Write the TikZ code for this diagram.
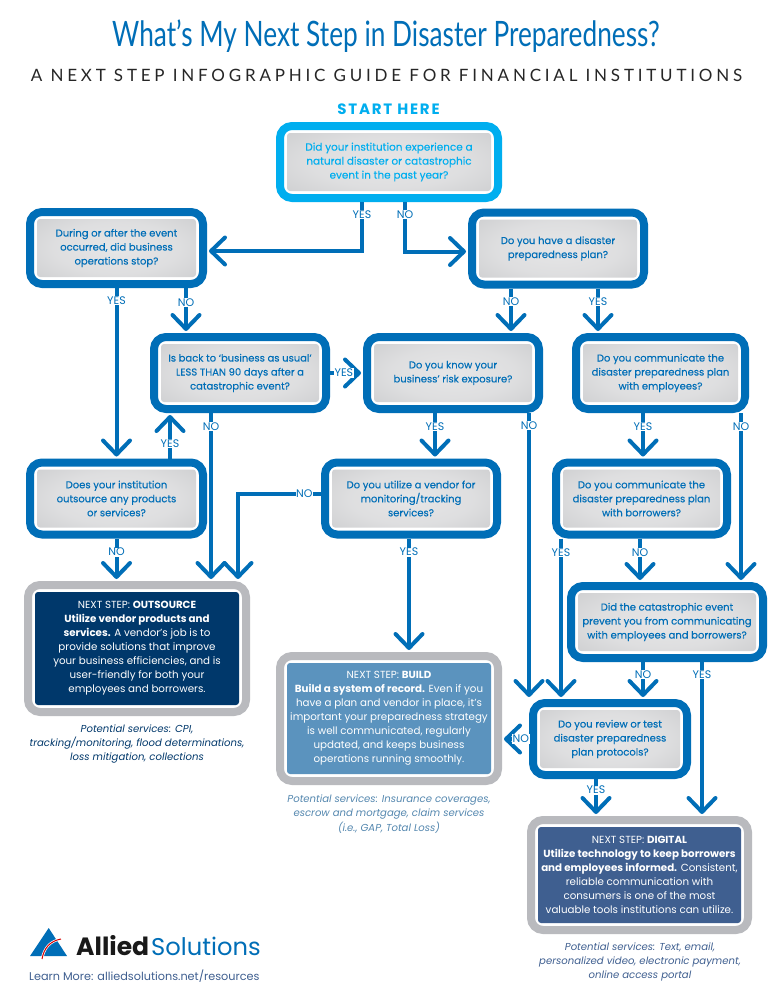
\documentclass[tikz,border=0pt]{standalone}
\usepackage{fontspec}
\usetikzlibrary{arrows.meta,calc}
\setmainfont{Poppins}
\newfontfamily\qfont[FakeBold=0.25]{Poppins}
\newfontfamily\titlefont[FakeStretch=0.75]{Lato}
\newfontfamily\subfont[LetterSpace=22.3]{Lato}
\definecolor{cblue}{HTML}{006EB7}
\definecolor{ccyan}{HTML}{00AEEF}
\definecolor{cnavy}{HTML}{00386B}
\definecolor{cbuild}{HTML}{5B93BE}
\definecolor{cdig}{HTML}{3F5F90}
\definecolor{cgrey}{HTML}{B9BABE}
\definecolor{cmid}{HTML}{E6E6E7}
\definecolor{cedge}{HTML}{C6C7C9}
\pgfdeclareradialshading{silver}{\pgfpoint{0bp}{0bp}}{color(0bp)=(cmid); color(18bp)=(cmid!75!cedge); color(40bp)=(cedge); color(100bp)=(cedge)}
\tikzset{
 anybox/.style={rounded corners=12pt,align=center,inner sep=0pt,outer sep=auto},
 qbox/.style 2 args={anybox,draw=cblue,fill=white,line width=8pt,minimum width=#1pt-8pt,minimum height=#2pt-8pt,
   text=cblue,font=\fontsize{10}{14}\qfont,execute at begin node={\rule{0pt}{12pt}},
   path picture={\shade[shading=silver,rounded corners=3pt]
     ([xshift=7pt,yshift=7pt]path picture bounding box.south west) rectangle
     ([xshift=-7pt,yshift=-7pt]path picture bounding box.north east);}},
 stepbox/.style n args={3}{anybox,draw=cgrey,fill=white,line width=8pt,minimum width=#1pt-8pt,minimum height=#2pt-8pt,
   text=white,font=\fontsize{10.3}{14}\selectfont,execute at begin node={\rule{0pt}{10pt}},
   path picture={\fill[#3,rounded corners=3pt]
     ([xshift=7pt,yshift=7pt]path picture bounding box.south west) rectangle
     ([xshift=-7pt,yshift=-7pt]path picture bounding box.north east);}},
 conn/.style={draw=cblue,line width=4pt,-{Straight Barb[length=14pt,width=27pt,round]},shorten >=2pt},
 lab/.style={fill=white,inner sep=0.6pt,text=cblue,font=\fontsize{11}{12}\selectfont},
 capt/.style={align=center,font=\fontsize{10.1}{14.2}\selectfont\itshape},
}
\begin{document}
\begin{tikzpicture}[x=1pt,y=-1pt]
\useasboundingbox (0,0) rectangle (777,1007);
\fill[white] (0,0) rectangle (777,1007);
\node[text=cblue,font=\fontsize{35}{40}\titlefont] (title) at (386,36) {What’s My Next Step in Disaster Preparedness?};
\node[text=black!85,font=\fontsize{17}{20}\subfont] (subtitle) at (386.5,75) {A NEXT STEP INFOGRAPHIC GUIDE FOR FINANCIAL INSTITUTIONS};
\node[text=ccyan,font=\fontsize{15}{16}\bfseries\addfontfeature{LetterSpace=12}] (starthere) at (388.5,109.5) {START HERE};

\node[qbox={226}{80},draw=ccyan,text=ccyan,font=\fontsize{10.45}{14}\qfont] (start) at (389,162) {Did your institution experience a\\natural disaster or catastrophic\\event in the past year?};
\node[qbox={181}{80}] (a) at (116.5,248) {During or after the event\\occurred, did business\\operations stop?};
\node[qbox={180}{80}] (b) at (558,248.5) {Do you have a disaster\\preparedness plan?};
\node[qbox={180}{80}] (c) at (240,373) {Is back to ‘business as usual’\\LESS THAN 90 days after a\\catastrophic event?};
\node[qbox={180}{80}] (d) at (453,373) {Do you know your\\business’ risk exposure?};
\node[qbox={177}{80}] (e) at (660.5,373) {Do you communicate the\\disaster preparedness plan\\with employees?};
\node[qbox={181}{80}] (f) at (116.5,498.5) {Does your institution\\outsource any products\\or services?};
\node[qbox={180}{80}] (g) at (411,498.5) {Do you utilize a vendor for\\monitoring/tracking\\services?};
\node[qbox={179}{80}] (h) at (641.5,498.5) {Do you communicate the\\disaster preparedness plan\\with borrowers?};
\node[qbox={200}{80}] (i) at (667,622) {Did the catastrophic event\\prevent you from communicating\\with employees and borrowers?};
\node[qbox={162}{80}] (j) at (610,739) {Do you review or test\\disaster preparedness\\plan protocols?};

\node[stepbox={226}{135}{cnavy}] (out) at (137,648.5) {NEXT STEP: \textbf{OUTSOURCE}\\\textbf{Utilize vendor products and}\\\textbf{services.} A vendor’s job is to\\provide solutions that improve\\your business efficiencies, and is\\user-friendly for both your\\employees and borrowers.};
\node[stepbox={226}{133}{cbuild}] (build) at (389,718.5) {NEXT STEP: \textbf{BUILD}\\\textbf{Build a system of record.} Even if you\\have a plan and vendor in place, it’s\\important your preparedness strategy\\is well communicated, regularly\\updated, and keeps business\\operations running smoothly.};
\node[stepbox={225}{118}{cdig}] (dig) at (639.5,875) {NEXT STEP: \textbf{DIGITAL}\\\textbf{Utilize technology to keep borrowers}\\\textbf{and employees informed.} Consistent,\\reliable communication with\\consumers is one of the most\\valuable tools institutions can utilize.};

\node[capt,text=cnavy] (capout) at (137,744) {Potential services: CPI,\\tracking/monitoring, flood determinations,\\loss mitigation, collections};
\node[capt,text=cbuild!92!black] (capbuild) at (389,814) {Potential services: Insurance coverages,\\escrow and mortgage, claim services\\(i.e., GAP, Total Loss)};
\node[capt,text=cdig] (capdig) at (640,962) {Potential services: Text, email,\\personalized video, electronic payment,\\online access portal};

\draw[conn] ([xshift=-27pt]start.south) |- node[lab,pos=.127] (l1) {YES} ([yshift=-3pt]a.east);
\draw[conn] ([xshift=16pt]start.south) |- node[lab,pos=.127] (l2) {NO} ([yshift=-3pt]b.west);
\draw[conn] (a.south) -- node[lab,pos=.074] (l3) {YES} (f.north);
\draw[conn] ([xshift=69.5pt]a.south) -- node[lab,pos=.33] (l4) {NO} ([xshift=-54pt]c.north);
\draw[conn] (c.east) -- node[lab,pos=.42] (l5) {YES} (d.west);
\draw[conn] ([xshift=53.5pt]f.north) -- node[lab,pos=.32] (l6) {YES} ([xshift=-70pt]c.south);
\draw[conn] (f.south) -- node[lab,pos=.32] (l7) {NO} ([xshift=-20.5pt]out.north);
\draw[conn] ([xshift=-29pt]c.south) -- node[lab,pos=.08] (l8) {NO} ([xshift=74pt]out.north);
\draw[conn] ([yshift=4.5pt]g.west) -| node[lab,pos=.1] (l9) {NO} ([xshift=101pt]out.north);
\draw[conn] ([xshift=-18pt]d.south) -- node[lab,pos=.3] (l10) {YES} ([xshift=24pt]g.north);
\draw[conn] ([xshift=76pt]d.south) -- node[lab,pos=.045] (l11) {NO} ([xshift=-81pt]j.north);
\draw[conn] ([xshift=-2pt]g.south) -- node[lab,pos=.12] (l12) {YES} ([xshift=20pt]build.north);
\draw[conn] ([xshift=-47pt]b.south) -- node[lab,pos=.3] (l13) {NO} ([xshift=58pt]d.north);
\draw[conn] ([xshift=40pt]b.south) -- node[lab,pos=.3] (l14) {YES} ([xshift=-62.5pt]e.north);
\draw[conn] ([xshift=-17.5pt]e.south) -- node[lab,pos=.3] (l15) {YES} ([xshift=1.5pt]h.north);
\draw[conn] ([xshift=80.5pt]e.south) -- node[lab,pos=.08] (l16) {NO} ([xshift=74pt]i.north);
\draw[conn] ([xshift=-80.5pt]h.south) -- node[lab,pos=.09] (l17) {YES} ([xshift=-49pt]j.north);
\draw[conn] ([xshift=-1.5pt]h.south) -- node[lab,pos=.33] (l18) {NO} ([xshift=-27pt]i.north);
\draw[conn] ([xshift=-24pt]i.south) -- node[lab,pos=.33] (l19) {NO} ([xshift=33pt]j.north);
\draw[conn] ([xshift=35pt]i.south) -- node[lab,pos=.08] (l20) {YES} ([xshift=62.5pt]dig.north);
\draw[conn] (j.west) -- node[lab,pos=.3] (l21) {NO} (j.west -| build.east);
\draw[conn] ([xshift=-14pt]j.south) -- node[lab,pos=.3] (l22) {YES} ([xshift=-43.5pt]dig.north);

% logo
\fill[cblue] (48.7,928) -- (67,956) -- (30,956) -- cycle;
\draw[white,line width=2.4pt] (42,959) .. controls (44,948) and (50,941) .. (61,939);
\draw[red!85!black,line width=1pt] (42,959) .. controls (44,948) and (50,941) .. (61,939);
\node[font=\fontsize{25}{30}\selectfont\bfseries,text=black!90,anchor=base west,inner sep=0pt] (allied) at (76,955) {Allied};
\node[font=\fontsize{24.2}{30}\selectfont,text=cblue,anchor=base west,inner sep=0pt] (sol) at (151,955) {Solutions};
\node[font=\fontsize{11.25}{14}\selectfont,text=cdig,anchor=base west,inner sep=0pt] (learn) at (29,980) {Learn More: alliedsolutions.net/resources};
\end{tikzpicture}
\end{document}
